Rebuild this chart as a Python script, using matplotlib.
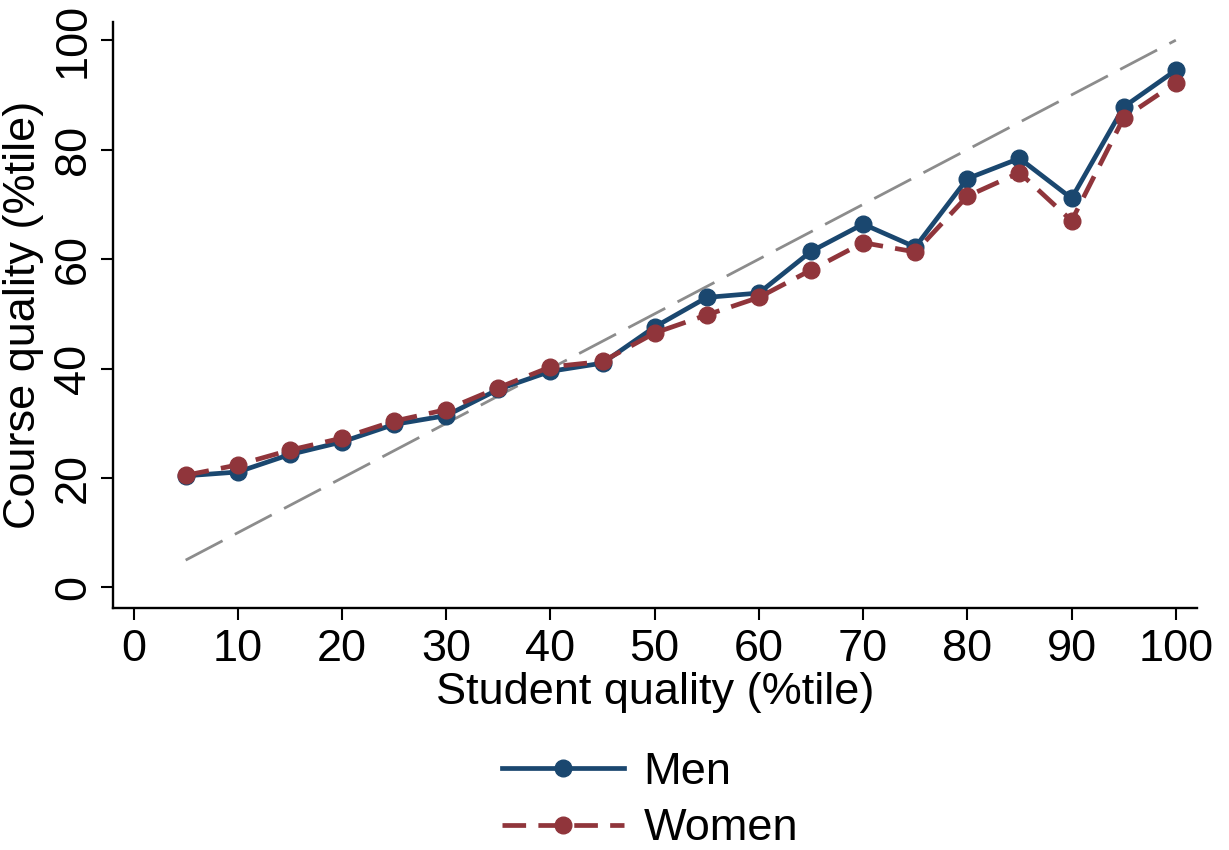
import numpy as np
import matplotlib
matplotlib.use("Agg")
import matplotlib.pyplot as plt

plt.rcParams['font.family'] = ['Liberation Sans', 'DejaVu Sans']

# percentile bins of student quality
student_pct = [5, 10, 15, 20, 25, 30, 35, 40, 45, 50,
               55, 60, 65, 70, 75, 80, 85, 90, 95, 100]
# course quality percentile
men = [20.4, 21.1, 24.3, 26.6, 29.8, 31.4, 36.2, 39.5, 41.0, 47.6,
       53.0, 53.8, 61.4, 66.4, 62.2, 74.7, 78.4, 71.1, 87.8, 94.5]
women = [20.5, 22.4, 25.1, 27.3, 30.4, 32.5, 36.5, 40.3, 41.3, 46.5,
         49.8, 53.0, 58.0, 63.0, 61.3, 71.5, 75.8, 67.0, 85.8, 92.2]
diag = [5, 100]

navy = '#1a476f'
maroon = '#90353b'
fs = 32.5

fig = plt.figure(figsize=(12.29, 8.5), dpi=100)
ax = fig.add_axes([0.0917, 0.285, 0.882, 0.689])

ax.plot(diag, diag, color='#8c8c8c', lw=2, dashes=(15, 5), zorder=1)
l1, = ax.plot(student_pct, men, color=navy, lw=3.4, marker='o', ms=12,
              zorder=3, label='Men')
l2, = ax.plot(student_pct, women, color=maroon, lw=3.4, marker='o', ms=12,
              dashes=(5, 2.6), zorder=4, label='Women')

ax.set_xlim(-2, 102)
ax.set_ylim(-3.7, 103.3)
ax.set_xticks(np.arange(0, 101, 10))
ax.set_yticks(np.arange(0, 101, 20))

for s in ['top', 'right']:
    ax.spines[s].set_visible(False)
for s in ['left', 'bottom']:
    ax.spines[s].set_linewidth(1.7)

ax.tick_params(axis='both', length=8.6, width=1.5, labelsize=fs, direction='out')
ax.tick_params(axis='x', pad=7)
ax.tick_params(axis='y', pad=5, labelrotation=90)
for lab in ax.get_yticklabels():
    lab.set_va('center')

ax.set_xlabel('Student quality (%tile)', fontsize=fs, labelpad=1)
ax.set_ylabel('Course quality (%tile)', fontsize=fs, labelpad=6)

fig.legend(handles=[l1, l2], loc='center', bbox_to_anchor=(0.529, 0.058),
           frameon=False, fontsize=fs, handlelength=2.7, handletextpad=0.42,
           labelspacing=0.34, borderpad=0)

fig.savefig('out.png', dpi=100, facecolor='white')
